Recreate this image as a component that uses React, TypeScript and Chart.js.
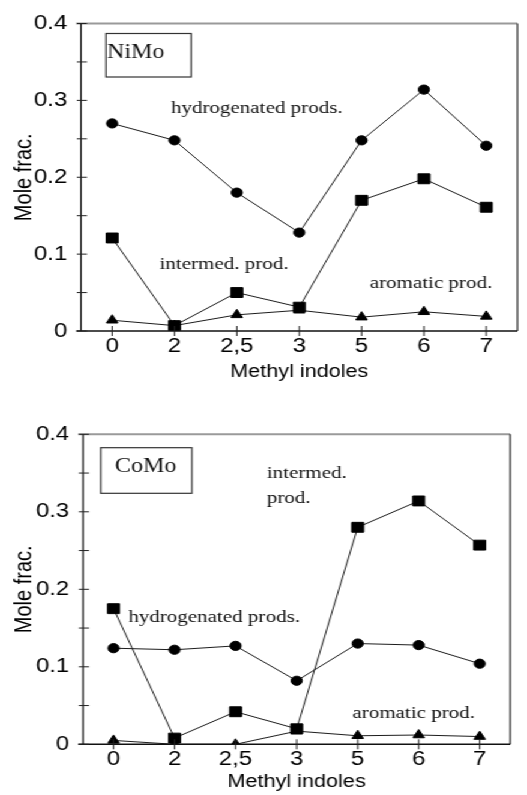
import React, { useEffect, useRef } from 'react';
import { Chart, registerables } from 'chart.js';

Chart.register(...registerables);

// Methyl-indole substitution positions on the x axis
const indoles = ['0', '2', '2,5', '3', '5', '6', '7'];

// Y axis ticks (labelled) and the unlabelled half steps between them
const yTickValues = [0, 0.1, 0.2, 0.3, 0.4];
const yTickLabels = ['0', '0.1', '0.2', '0.3', '0.4'];
const yMinorValues = [0.05, 0.15, 0.25, 0.35];

// NiMo catalyst – mole fractions
const nimoHydrogenated = [0.27, 0.248, 0.18, 0.128, 0.248, 0.314, 0.241];
const nimoIntermediate = [0.121, 0.007, 0.05, 0.031, 0.17, 0.198, 0.161];
const nimoAromatic = [0.014, 0.007, 0.021, 0.027, 0.018, 0.025, 0.019];

// CoMo catalyst – mole fractions
const comoHydrogenated = [0.124, 0.122, 0.127, 0.082, 0.13, 0.128, 0.104];
const comoIntermediate = [0.175, 0.008, 0.042, 0.02, 0.28, 0.314, 0.257];
const comoAromatic = [0.005, 0, 0, 0.017, 0.011, 0.012, 0.01];

const SANS = '"Liberation Sans", Arial, Helvetica, sans-serif';
const SERIF = '"Liberation Serif", "Times New Roman", Times, serif';

// Drawing width of each canvas; the figure is widened horizontally to the page width.
const CANVAS_W = 439;
const STRETCH_X = 527 / CANVAS_W;

type Note = { text: string; dx: number; dy: number; size?: number };
type Box = { dx: number; dy: number; w: number; h: number };

type PanelConfig = {
  height: number;
  area: { left: number; right: number; top: number; bottom: number };
  xTitlePad: number;
  hydrogenated: number[];
  intermediate: number[];
  aromatic: number[];
  box: Box;
  notes: Note[];
};

const nimoPanel: PanelConfig = {
  height: 390,
  area: { left: 67.5, right: 435, top: 19, bottom: 331 },
  xTitlePad: 7,
  hydrogenated: nimoHydrogenated,
  intermediate: nimoIntermediate,
  aromatic: nimoAromatic,
  box: { dx: 20.8, dy: 10, w: 71, h: 43.5 },
  notes: [
    { text: 'NiMo', dx: 21.7, dy: 34, size: 20 },
    { text: 'hydrogenated prods.', dx: 75, dy: 89.6 },
    { text: 'intermed. prod.', dx: 65.5, dy: 245 },
    { text: 'aromatic prod.', dx: 240.5, dy: 264.3 },
  ],
};

const comoPanel: PanelConfig = {
  height: 405,
  area: { left: 69.2, right: 425, top: 44.3, bottom: 354.3 },
  xTitlePad: 2,
  hydrogenated: comoHydrogenated,
  intermediate: comoIntermediate,
  aromatic: comoAromatic,
  box: { dx: 14.7, dy: 13.4, w: 76, h: 45.6 },
  notes: [
    { text: 'CoMo', dx: 26.6, dy: 37.4, size: 20 },
    { text: 'intermed.', dx: 153, dy: 44 },
    { text: 'prod.', dx: 153, dy: 69 },
    { text: 'hydrogenated prods.', dx: 37.8, dy: 187.4 },
    { text: 'aromatic prod.', dx: 224.4, dy: 284 },
  ],
};

// Frame, tick marks, catalyst box and curve labels drawn on top of the plot
const panelDecor = {
  id: 'panelDecor',
  afterDraw(chart: any, _args: any, opts: any) {
    const cfg: PanelConfig = opts.config;
    const { ctx, chartArea } = chart;
    const { left, right, top, bottom } = chartArea;
    const xs = chart.scales.x;
    const ys = chart.scales.y;
    ctx.save();

    // frame
    ctx.lineCap = 'butt';
    ctx.strokeStyle = '#9a9a9a';
    ctx.lineWidth = 2;
    ctx.beginPath();
    ctx.moveTo(left - 4, top);
    ctx.lineTo(right, top);
    ctx.stroke();

    ctx.strokeStyle = '#333';
    ctx.lineWidth = 1.3;
    ctx.beginPath();
    ctx.moveTo(right, top);
    ctx.lineTo(right, bottom);
    ctx.stroke();

    ctx.strokeStyle = '#111';
    ctx.lineWidth = 1.2;
    ctx.beginPath();
    ctx.moveTo(left, top);
    ctx.lineTo(left, bottom);
    ctx.stroke();

    ctx.lineWidth = 1.5;
    ctx.beginPath();
    ctx.moveTo(left - 4, bottom);
    ctx.lineTo(right, bottom);
    ctx.stroke();

    // y tick marks crossing the axis
    ctx.lineWidth = 1;
    ctx.strokeStyle = '#222';
    [...yTickValues, ...yMinorValues].forEach((v) => {
      const y = ys.getPixelForValue(v);
      ctx.beginPath();
      ctx.moveTo(left - 3.5, y);
      ctx.lineTo(left + 5, y);
      ctx.stroke();
    });

    // x tick marks at each category
    indoles.forEach((_c, i) => {
      const x = xs.getPixelForValue(i);
      ctx.beginPath();
      ctx.moveTo(x, bottom - 5);
      ctx.lineTo(x, bottom + 5);
      ctx.stroke();
    });

    // catalyst name box
    const b = cfg.box;
    ctx.strokeStyle = '#333';
    ctx.lineWidth = 1.2;
    ctx.strokeRect(left + b.dx, top + b.dy, b.w, b.h);

    // curve labels
    ctx.fillStyle = '#111';
    ctx.textAlign = 'left';
    ctx.textBaseline = 'alphabetic';
    cfg.notes.forEach((n) => {
      ctx.font = `${n.size ?? 17.5}px ${SERIF}`;
      ctx.fillText(n.text, left + n.dx, top + n.dy);
    });

    ctx.restore();
  },
};

function Panel({ config }: { config: PanelConfig }) {
  const ref = useRef<HTMLCanvasElement | null>(null);

  useEffect(() => {
    const canvas = ref.current;
    if (!canvas) return;
    const { area, height } = config;

    const series = (data: number[], pointStyle: string, radius: number) => ({
      data,
      borderColor: '#1c1c1c',
      borderWidth: 1,
      backgroundColor: '#000',
      pointStyle,
      pointRadius: radius,
      pointHoverRadius: radius,
      pointBackgroundColor: '#000',
      pointBorderColor: '#000',
      pointBorderWidth: 1,
      tension: 0,
      fill: false,
    });

    const chart = new Chart(canvas, {
      type: 'line',
      data: {
        labels: indoles,
        datasets: [
          { label: 'hydrogenated prods.', ...series(config.hydrogenated, 'circle', 4.6) },
          { label: 'intermed. prod.', ...series(config.intermediate, 'rect', 7) },
          { label: 'aromatic prod.', ...series(config.aromatic, 'triangle', 5.5) },
        ],
      } as any,
      options: {
        responsive: false,
        animation: false,
        devicePixelRatio: 1,
        events: [],
        layout: {
          padding: { top: area.top, right: CANVAS_W - area.right, bottom: 0, left: 0 },
        },
        plugins: {
          legend: { display: false },
          tooltip: { enabled: false },
          panelDecor: { config },
        } as any,
        scales: {
          x: {
            type: 'category',
            offset: true,
            grid: { display: false, drawTicks: false },
            border: { display: false },
            ticks: {
              color: '#000',
              font: { family: SANS, size: 20 },
              padding: 3,
              autoSkip: false,
              maxRotation: 0,
            },
            title: {
              display: true,
              text: 'Methyl indoles',
              color: '#000',
              font: { family: SANS, size: 18 },
              padding: { top: 0, bottom: config.xTitlePad },
            },
            afterFit: (s: any) => {
              s.height = height - area.bottom;
            },
          },
          y: {
            type: 'linear',
            min: 0,
            max: 0.4,
            grid: { display: false, drawTicks: false },
            border: { display: false },
            ticks: {
              stepSize: 0.1,
              color: '#000',
              font: { family: SANS, size: 20 },
              padding: 11.5,
              callback: (v: any) => {
                const i = yTickValues.findIndex((t) => Math.abs(t - Number(v)) < 1e-6);
                return i >= 0 ? yTickLabels[i] : '';
              },
            },
            title: {
              display: true,
              text: 'Mole frac.',
              color: '#000',
              font: { family: SANS, size: 20 },
              padding: { top: 8.8, bottom: 0 },
            },
            afterFit: (s: any) => {
              s.width = area.left;
            },
          },
        },
      } as any,
      plugins: [panelDecor],
    });

    return () => chart.destroy();
  }, [config]);

  return (
    <canvas
      ref={ref}
      width={CANVAS_W}
      height={config.height}
      style={{ display: 'block', width: CANVAS_W, height: config.height }}
    />
  );
}

export default function App() {
  return (
    <div
      style={{
        position: 'absolute',
        left: 0,
        top: 0,
        width: CANVAS_W,
        background: '#fff',
        transform: `scaleX(${STRETCH_X})`,
        transformOrigin: '0 0',
      }}
    >
      <Panel config={nimoPanel} />
      <Panel config={comoPanel} />
    </div>
  );
}
